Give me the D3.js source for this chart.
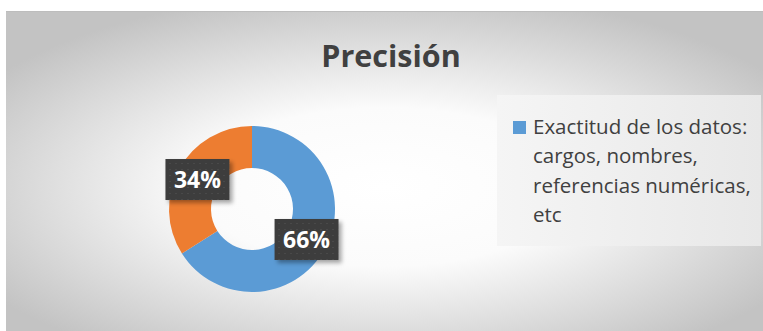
<!DOCTYPE html>
<html>
<head>
<meta charset="utf-8">
<script src="https://cdn.jsdelivr.net/npm/d3@7"></script>
<style>
  body { margin: 0; background: #fff; }
  svg { display: block; }
</style>
</head>
<body>
<div id="chart"></div>
<script>
const chartTitle = 'Precisión';
const categories = ['Exactitud de los datos: cargos, nombres, referencias numéricas, etc', 'Otros'];
const values = [66, 34];
const colors = ['#5b9bd5', '#ed7d31'];
const legendLines = ['Exactitud de los datos:', 'cargos, nombres,', 'referencias numéricas,', 'etc'];

const width = 763, height = 331;
const frame = {left: 6, top: 11};
const center = {x: 252, y: 209};
const outerR = 83, innerR = 41;
const font = '"Open Sans", sans-serif';

let svg = d3.select('#chart').append('svg').attr('width', width).attr('height', height);
let defs = svg.append('defs');

let bg = defs.append('radialGradient').attr('id', 'bg')
    .attr('cx', '0.5').attr('cy', '0.55').attr('r', '0.62');
bg.append('stop').attr('offset', '0%').attr('stop-color', '#ffffff');
bg.append('stop').attr('offset', '40%').attr('stop-color', '#fbfbfb');
bg.append('stop').attr('offset', '100%').attr('stop-color', '#c3c3c3');

let legendBg = defs.append('linearGradient').attr('id', 'legendBg')
    .attr('x1', '0').attr('y1', '0').attr('x2', '1').attr('y2', '0');
legendBg.append('stop').attr('offset', '0%').attr('stop-color', '#f5f5f5');
legendBg.append('stop').attr('offset', '100%').attr('stop-color', '#e8e8e8');

let dots = defs.append('pattern').attr('id', 'dots').attr('patternUnits', 'userSpaceOnUse')
    .attr('width', 6).attr('height', 6);
dots.append('rect').attr('width', 6).attr('height', 6).attr('fill', '#3d3d3d');
dots.append('rect').attr('x', 2).attr('y', 2).attr('width', 1).attr('height', 1).attr('fill', '#555');

let shadow = defs.append('filter').attr('id', 'shadow').attr('x', '-20%').attr('y', '-20%')
    .attr('width', '150%').attr('height', '160%');
shadow.append('feDropShadow').attr('dx', 3).attr('dy', 3).attr('stdDeviation', 2)
    .attr('flood-color', '#000').attr('flood-opacity', 0.35);

svg.append('rect').attr('x', frame.left).attr('y', frame.top)
    .attr('width', width - frame.left).attr('height', height - frame.top)
    .attr('fill', 'url(#bg)');
svg.append('line').attr('x1', frame.left).attr('x2', width).attr('y1', frame.top + 0.5).attr('y2', frame.top + 0.5)
    .attr('stroke', '#bdbdbd');

svg.append('text').attr('x', 391).attr('y', 67).attr('text-anchor', 'middle')
    .attr('font-family', font).attr('font-weight', 'bold').attr('font-size', 30.5)
    .attr('fill', '#404040').text(chartTitle);

let pie = d3.pie().sort(null).value(function(d){ return d; });
let arc = d3.arc().innerRadius(innerR).outerRadius(outerR);
let arcs = pie(values);

let donut = svg.append('g').attr('transform', 'translate(' + center.x + ',' + center.y + ')');
donut.selectAll('path').data(arcs).enter().append('path')
    .attr('d', arc)
    .attr('fill', function(d, i){ return colors[i]; });

// label boxes sit on the ring, a bit outside its middle
let labelArc = d3.arc().innerRadius(outerR * 0.75).outerRadius(outerR * 0.75);
let labels = donut.selectAll('g.label').data(arcs).enter().append('g').attr('class', 'label')
    .attr('transform', function(d){
        let c = labelArc.centroid(d);
        return 'translate(' + c[0] + ',' + c[1] + ')';
    });
labels.append('rect').attr('x', -32).attr('y', -20).attr('width', 64).attr('height', 41)
    .attr('fill', 'url(#dots)').attr('filter', 'url(#shadow)');
labels.append('text').attr('text-anchor', 'middle').attr('y', 9)
    .attr('font-family', font).attr('font-weight', 'bold').attr('font-size', 23)
    .attr('fill', '#fff').text(function(d){ return d.data + '%'; });

let legend = svg.append('g');
legend.append('rect').attr('x', 497).attr('y', 95).attr('width', 264).attr('height', 151)
    .attr('fill', 'url(#legendBg)');
legend.append('rect').attr('x', 513).attr('y', 121).attr('width', 13).attr('height', 13)
    .attr('fill', colors[0]);
legend.selectAll('text').data(legendLines).enter().append('text')
    .attr('x', 533).attr('y', function(d, i){ return 134 + i * 29.3; })
    .attr('font-family', font).attr('font-size', 20.5).attr('fill', '#404040')
    .text(function(d){ return d; });
</script>
</body>
</html>
